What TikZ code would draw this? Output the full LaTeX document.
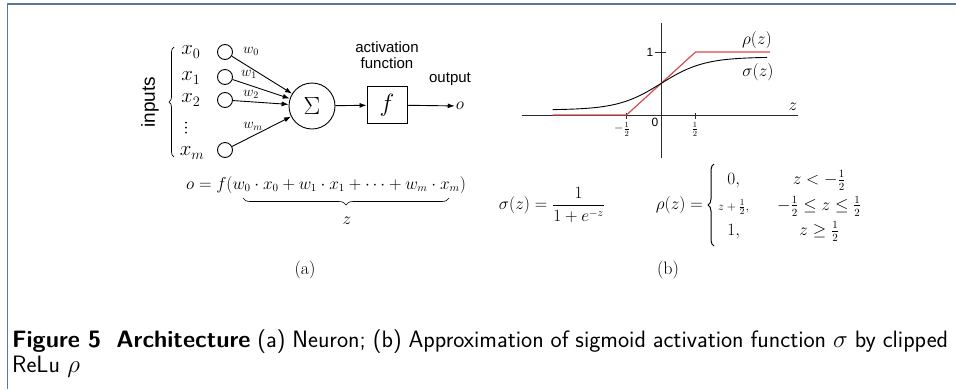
\documentclass[tikz,border=0pt]{standalone}
\usepackage{amsmath,amssymb}
\usepackage{fontspec}
\newfontfamily\arialfont{Liberation Sans}
\usepackage{tikz}
\usetikzlibrary{positioning,arrows.meta,decorations.pathreplacing}
\definecolor{framegrey}{HTML}{5F7899}
\definecolor{clipred}{HTML}{D64B4B}
\definecolor{axisgrey}{HTML}{2B2B2B}

\begin{document}
\begin{tikzpicture}[x=1pt,y=-1pt,
  inlab/.style={font=\fontsize{20}{23}\selectfont,inner sep=0pt},
  wlab/.style={font=\fontsize{14}{16}\selectfont,inner sep=0pt},
  incirc/.style={circle,draw,line width=0.9pt,minimum size=15pt,inner sep=0pt},
  arr/.style={-{Latex[length=7pt,width=5pt]},line width=0.9pt},
  sanslab/.style={font=\arialfont\fontsize{15}{16}\selectfont,inner sep=0pt,align=center},
  eqn/.style={font=\fontsize{16}{19}\selectfont,inner sep=0pt},
  ticklab/.style={font=\fontsize{12}{14}\selectfont,inner sep=0pt},
  sublab/.style={font=\fontsize{18}{21}\selectfont,inner sep=0pt},
  captext/.style={font=\sffamily\fontsize{23.7}{28}\selectfont,inner sep=0pt,anchor=base west}]
\useasboundingbox (0,0) rectangle (956,389);
\draw[framegrey,line width=1.6pt] (7.5,389) -- (7.5,4) -- (956,4);
% (a) neuron
\node[font=\arialfont\fontsize{19}{22}\selectfont,rotate=90,inner sep=0pt] (inlbl) at (150,102) {inputs};
\draw[decorate,decoration={brace,amplitude=5pt},line width=0.7pt] (174,157) -- (174,47);
\node[inlab] (xl0) at (191,52) {$x_0$};
\node[inlab] (xl1) at (191,78) {$x_1$};
\node[inlab] (xl2) at (191,100) {$x_2$};
\foreach \dy in {122.5,127.5,132.5}
  \fill (186,\dy) circle (1pt);
\node[inlab] (xlm) at (192,153) {$x_m$};
\node[incirc] (in0) at (225,52) {};
\node[incirc] (in1) at (225,77) {};
\node[incirc] (in2) at (225,100) {};
\node[incirc] (inm) at (225,150) {};
\node[circle,draw,line width=0.9pt,minimum size=46pt,inner sep=0pt,font=\fontsize{26}{30}\selectfont] (sum) at (312,106) {$\Sigma$};
\node[draw,line width=0.9pt,minimum width=40pt,minimum height=37pt,inner sep=0pt,font=\fontsize{26}{30}\selectfont] (act) at (387,105) {$f$};
\node[font=\fontsize{16}{19}\selectfont,inner sep=1pt] (out) at (460,106) {$o$};
\draw[arr] (in0) -- (sum);
\draw[arr] (in1) -- (sum);
\draw[arr] (in2) -- (sum);
\draw[arr] (inm) -- (sum);
\draw[arr] (sum) -- (act);
\draw[arr] (act) -- (out);
\node[wlab] (wl0) at (251,51) {$w_0$};
\node[wlab] (wl1) at (249,74) {$w_1$};
\node[wlab] (wl2) at (251,94) {$w_2$};
\node[wlab] (wlm) at (253,126) {$w_m$};
\node[sanslab] (actlbl) at (387,55) {activation\\function};
\node[sanslab] (outlbl) at (450,79) {output};
\node[eqn] (eqo) at (326,185)
  {$o=f(w_0\cdot x_0+w_1\cdot x_1+\cdots+w_m\cdot x_m)$};
\draw[decorate,decoration={brace,mirror,amplitude=7pt},line width=0.6pt] (243,198) -- (449,198);
\node[eqn] (zlbl) at (347,221) {$z$};
\node[sublab] (suba) at (305,270) {(a)};
% (b) clipped ReLu vs sigmoid
\begin{scope}[shift={(661,115)},x=69pt,y=63pt]
\draw[axisgrey,line width=0.8pt] (-2.01,0) -- (1.986,0);
\draw[axisgrey,line width=0.8pt] (0,-0.68) -- (0,1.46);
\draw[axisgrey,line width=0.8pt] (-0.09,1) -- (0.07,1);
\draw[axisgrey,line width=0.8pt] (-0.5,0.03) -- (-0.5,-0.06);
\draw[axisgrey,line width=0.8pt] (0.5,0.03) -- (0.5,-0.06);
\draw[clipred,line width=1.2pt] (-1.57,0) -- (-0.5,0) -- (0.5,1) -- (1.58,1);
\draw[black,line width=0.9pt,domain=-1.57:1.54,samples=60,smooth] plot (\x,{0.5+0.42*tanh(1.6*\x)});
\end{scope}
\node[font=\arialfont\fontsize{12}{14}\selectfont,inner sep=0pt] (yone) at (650,52) {1};
\node[font=\arialfont\fontsize{12}{14}\selectfont,inner sep=0pt] (orig) at (655,122) {0};
\node[ticklab] (tmhalf) at (622,129) {$-\frac{1}{2}$};
\node[ticklab] (tphalf) at (695,129) {$\frac{1}{2}$};
\node[eqn,font=\fontsize{18}{21}\selectfont] (rholbl) at (757,40) {$\rho(z)$};
\node[eqn,font=\fontsize{18}{21}\selectfont] (siglbl) at (758,72) {$\sigma(z)$};
\node[eqn,font=\fontsize{18}{21}\selectfont] (zaxlbl) at (793,107) {$z$};
\node[eqn] (sigeq) at (552,205) {$\sigma(z)=\dfrac{1}{1+e^{-z}}$};
\node[eqn,anchor=east] (rholhs) at (703,205) {$\rho(z)=$};
\draw[decorate,decoration={brace,amplitude=6pt},line width=1pt] (714,246) -- (714,164);
\node[eqn,anchor=west] (rhocases) at (718,205) {\def\arraystretch{1.35}$\begin{array}{@{}c@{\hspace{28pt}}c@{}}
  0, & z<-\frac{1}{2}\\
  \mbox{\fontsize{13}{15}\selectfont$z+\frac{1}{2}$,} & -\frac{1}{2}\le z\le\frac{1}{2}\\
  1, & z\ge\frac{1}{2}\end{array}$};
\node[sublab] (subb) at (668,270) {(b)};
% caption
\node[captext] (capa) at (12,347) {\makebox[936pt][s]{\textbf{Figure 5\hspace{0.3em} Architecture} (a) Neuron; (b) Approximation of sigmoid activation function $\sigma$ by clipped}};
\node[captext] (capb) at (12,372) {ReLu $\rho$};
\end{tikzpicture}
\end{document}
